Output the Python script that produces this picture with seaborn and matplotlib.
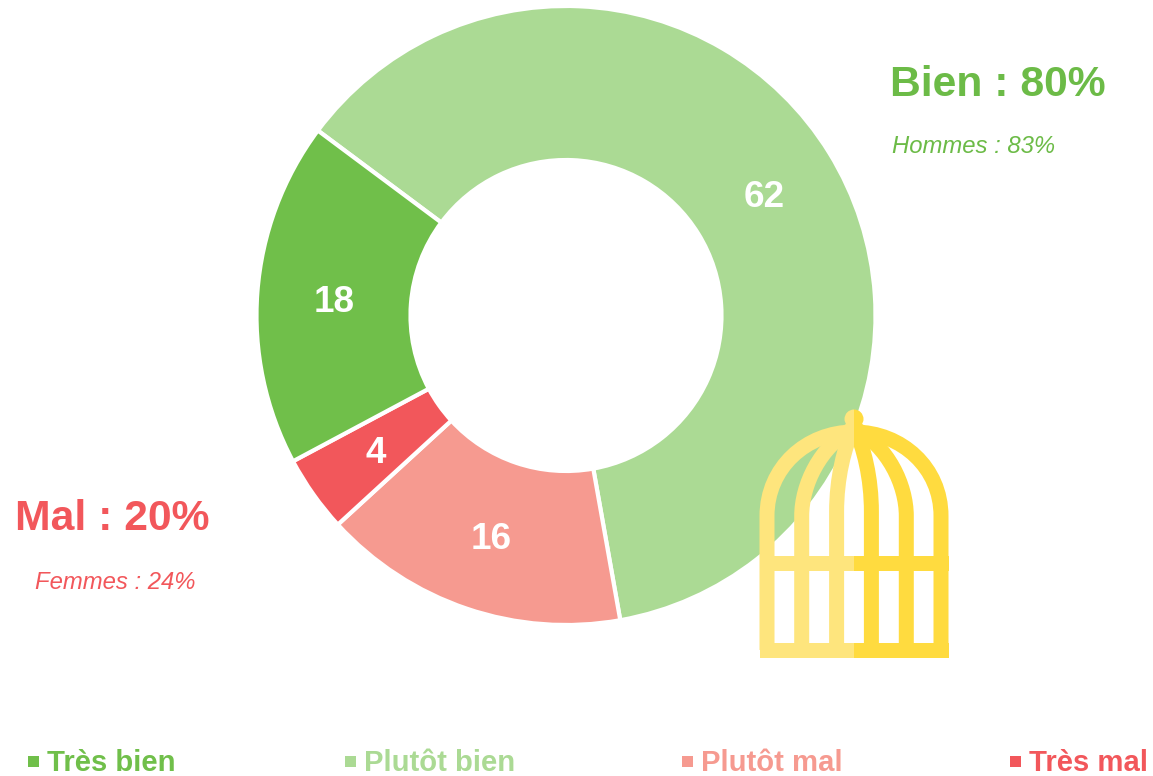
import matplotlib
matplotlib.use("Agg")
import matplotlib.pyplot as plt
from matplotlib.patches import Rectangle, Circle, PathPatch
from matplotlib.path import Path
import seaborn as sns

W, H = 1153, 776
categories = ["Plutôt bien", "Plutôt mal", "Très mal", "Très bien"]
values = [62, 16, 4, 18]
legend_order = ["Très bien", "Plutôt bien", "Plutôt mal", "Très mal"]
legend_square_x = [28, 345, 682, 1010]
legend_text_x = [47, 364, 701, 1029]
colours = dict(zip(legend_order, ["#70BF4A", "#ABDA94", "#F69A90", "#F2575B"]))
summary_good = ["Bien : 80%", "Hommes : 83%"]
summary_bad = ["Mal : 20%", "Femmes : 24%"]

sns.set_theme(style="white")
plt.rcParams["font.family"] = ["Liberation Sans", "DejaVu Sans"]
palette = sns.color_palette([colours[c] for c in categories])

fig = plt.figure(figsize=(W / 100, H / 100), dpi=100, facecolor="white")
ax = fig.add_axes([0, 0, 1, 1])


def Y(y):
    return H - y


R = 309.5
wedges, _, autotexts = ax.pie(
    values, colors=palette, center=(566, Y(315.5)), radius=R, startangle=143.3,
    counterclock=False, labeldistance=None,
    autopct=lambda p: f"{round(p)}", pctdistance=232.5 / R,
    wedgeprops=dict(width=154, edgecolor="white", linewidth=3),
    textprops=dict(color="white", fontsize=26.6, fontweight="bold"),
)
for t in autotexts:
    t.set_verticalalignment("center_baseline")
ax.set_xlim(0, W)
ax.set_ylim(0, H)
ax.set_aspect("auto")
ax.axis("off")

# text blocks
base = dict(va="center_baseline", ha="left")
ax.text(890, Y(81), summary_good[0], color="#6CBB47", fontsize=30.7, fontweight="bold", **base)
ax.text(892, Y(144), summary_good[1], color="#6CBB47", fontsize=17.2, style="italic", **base)
ax.text(15, Y(514), summary_bad[0], color="#F2575B", fontsize=30.7, fontweight="bold", **base)
ax.text(35, Y(580), summary_bad[1], color="#F2575B", fontsize=17.2, style="italic", **base)

# legend
for name, sx, tx in zip(legend_order, legend_square_x, legend_text_x):
    ax.add_patch(Rectangle((sx, Y(766.5)), 11, 11, facecolor=colours[name], edgecolor="none"))
    ax.text(tx, Y(760), name, color=colours[name], fontsize=21.1, fontweight="bold", **base)


# cage icon
def stroke(verts, codes, colour, clip, width=15):
    p = PathPatch(Path([(x, Y(y)) for x, y in verts], codes), facecolor="none",
                  edgecolor=colour, linewidth=width * 0.72, capstyle="butt", joinstyle="miter", zorder=5)
    ax.add_patch(p)
    p.set_clip_path(clip)


M, L, C = Path.MOVETO, Path.LINETO, Path.CURVE4
cx = 854
shapes = []
for s in (-1, 1):
    # outer dome side
    shapes.append(([(cx + s * 87, 650), (cx + s * 87, 516), (cx + s * 87, 468), (cx + s * 48, 432), (cx, 432)],
                   [M, L, C, C, C]))
    # middle bar
    shapes.append(([(cx + s * 52.3, 650), (cx + s * 52.3, 516), (cx + s * 52.3, 485), (cx + s * 34, 446), (cx, 428)],
                   [M, L, C, C, C]))
    # inner bar
    shapes.append(([(cx + s * 17.4, 650), (cx + s * 17.4, 512), (cx + s * 17.4, 478), (cx + s * 10, 448), (cx, 426)],
                   [M, L, C, C, C]))

for colour, x0, x1 in (("#FEE57D", 755, cx), ("#FFDB3F", cx, 955)):
    clip = Rectangle((x0, Y(665)), x1 - x0, 265, transform=ax.transData)
    for verts, codes in shapes:
        stroke(verts, codes, colour, clip)
    for rect in [(759.5, 643, 189, 15), (759.5, 556, 189, 14.5)]:
        r = Rectangle((rect[0], Y(rect[1] + rect[3])), rect[2], rect[3], facecolor=colour, edgecolor="none", zorder=5)
        ax.add_patch(r)
        r.set_clip_path(clip)
    c = Circle((cx, Y(419)), 9.5, facecolor=colour, edgecolor="none", zorder=5)
    ax.add_patch(c)
    c.set_clip_path(clip)

fig.savefig("out.png", dpi=100, facecolor="white")
